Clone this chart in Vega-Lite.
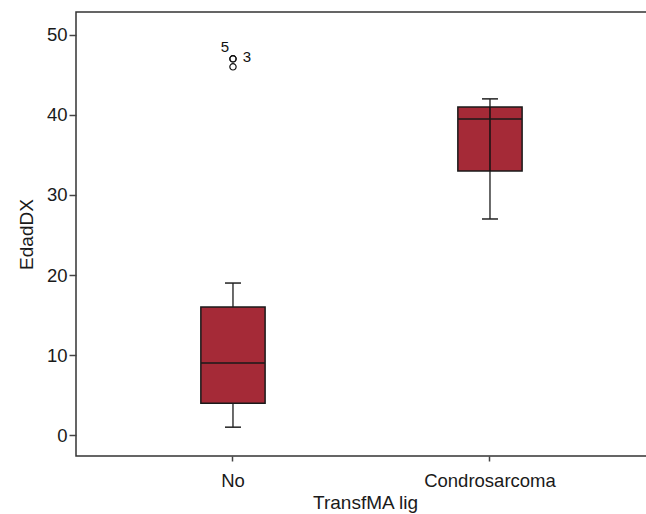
{
  "$schema": "https://vega.github.io/schema/vega-lite/v6.json",
  "autosize": {"type": "none"},
  "padding": {"left": 76, "top": 12, "right": 0, "bottom": 58},
  "width": 578,
  "height": 444,
  "background": "white",
  "config": {
    "view": {"stroke": "#333333", "strokeWidth": 1.5},
    "font": "Liberation Sans",
    "axis": {"labelFont": "Liberation Sans", "titleFont": "Liberation Sans", "labelColor": "#1a1a1a", "titleColor": "#1a1a1a", "titleFontWeight": "normal", "grid": false, "domain": false, "tickColor": "#444444", "tickWidth": 1.5}
  },
  "datasets": {
    "boxes": [
      {"TransfMA lig": "No", "min": 1, "q1": 4, "median": 9, "q3": 16, "max": 19},
      {"TransfMA lig": "Condrosarcoma", "min": 27, "q1": 33, "median": 39.5, "q3": 41, "max": 42}
    ],
    "outliers": [
      {"TransfMA lig": "No", "EdadDX": 47, "case": "5"},
      {"TransfMA lig": "No", "EdadDX": 46, "case": "8"},
      {"TransfMA lig": "No", "EdadDX": 47, "case": "3"}
    ]
  },
  "encoding": {
    "x": {
      "field": "TransfMA lig", "type": "nominal",
      "sort": ["No", "Condrosarcoma"],
      "scale": {"type": "band", "paddingInner": 0, "paddingOuter": 0.1245, "align": 0.445},
      "axis": {"title": "TransfMA lig", "labelAngle": 0, "labelFontSize": 18.5, "titleFontSize": 19, "tickSize": 5, "labelPadding": 10, "titlePadding": 4}
    }
  },
  "layer": [
    {
      "data": {"name": "boxes"},
      "mark": {"type": "rule", "color": "#3a3a3a", "strokeWidth": 1.5},
      "encoding": {
        "y": {"field": "min", "type": "quantitative",
          "scale": {"domain": [-2.6, 52.85], "nice": false, "zero": false},
          "axis": {"title": "EdadDX", "values": [0, 10, 20, 30, 40, 50], "labelFontSize": 18.5, "titleFontSize": 19, "tickSize": 7, "labelPadding": 2, "titlePadding": 10}},
        "y2": {"field": "max"}
      }
    },
    {
      "data": {"name": "boxes"},
      "mark": {"type": "bar", "width": {"band": 0.25}, "fill": "#a52a37", "stroke": "#1a1a1a", "strokeWidth": 1.5},
      "encoding": {
        "y": {"field": "q1", "type": "quantitative"},
        "y2": {"field": "q3"}
      }
    },
    {
      "data": {"name": "boxes"},
      "transform": [{"filter": "datum['TransfMA lig'] === 'Condrosarcoma'"}],
      "mark": {"type": "rule", "color": "#111111", "strokeWidth": 1.5},
      "encoding": {
        "y": {"field": "q1", "type": "quantitative"},
        "y2": {"field": "q3"}
      }
    },
    {
      "data": {"name": "boxes"},
      "mark": {"type": "tick", "orient": "horizontal", "size": 64, "thickness": 1.5, "color": "#1a1a1a", "opacity": 1},
      "encoding": {
        "y": {"field": "median", "type": "quantitative"}
      }
    },
    {
      "data": {"name": "boxes"},
      "mark": {"type": "tick", "orient": "horizontal", "size": 16, "thickness": 1.5, "color": "#222222", "opacity": 1},
      "encoding": {
        "y": {"field": "min", "type": "quantitative"}
      }
    },
    {
      "data": {"name": "boxes"},
      "mark": {"type": "tick", "orient": "horizontal", "size": 16, "thickness": 1.5, "color": "#222222", "opacity": 1},
      "encoding": {
        "y": {"field": "max", "type": "quantitative"}
      }
    },
    {
      "data": {"name": "outliers"},
      "mark": {"type": "point", "shape": "circle", "filled": false, "size": 40, "stroke": "#111111", "strokeWidth": 1.2, "opacity": 1},
      "encoding": {
        "y": {"field": "EdadDX", "type": "quantitative"}
      }
    },
    {
      "data": {"name": "outliers"},
      "transform": [{"filter": "datum.case === '5'"}],
      "mark": {"type": "text", "fontSize": 15, "dx": -8, "dy": -12, "color": "#111111", "baseline": "middle", "align": "center"},
      "encoding": {
        "y": {"field": "EdadDX", "type": "quantitative"},
        "text": {"field": "case"}
      }
    },
    {
      "data": {"name": "outliers"},
      "transform": [{"filter": "datum.case === '3'"}],
      "mark": {"type": "text", "fontSize": 15, "dx": 14, "dy": -2, "color": "#111111", "baseline": "middle", "align": "center"},
      "encoding": {
        "y": {"field": "EdadDX", "type": "quantitative"},
        "text": {"field": "case"}
      }
    }
  ]
}
